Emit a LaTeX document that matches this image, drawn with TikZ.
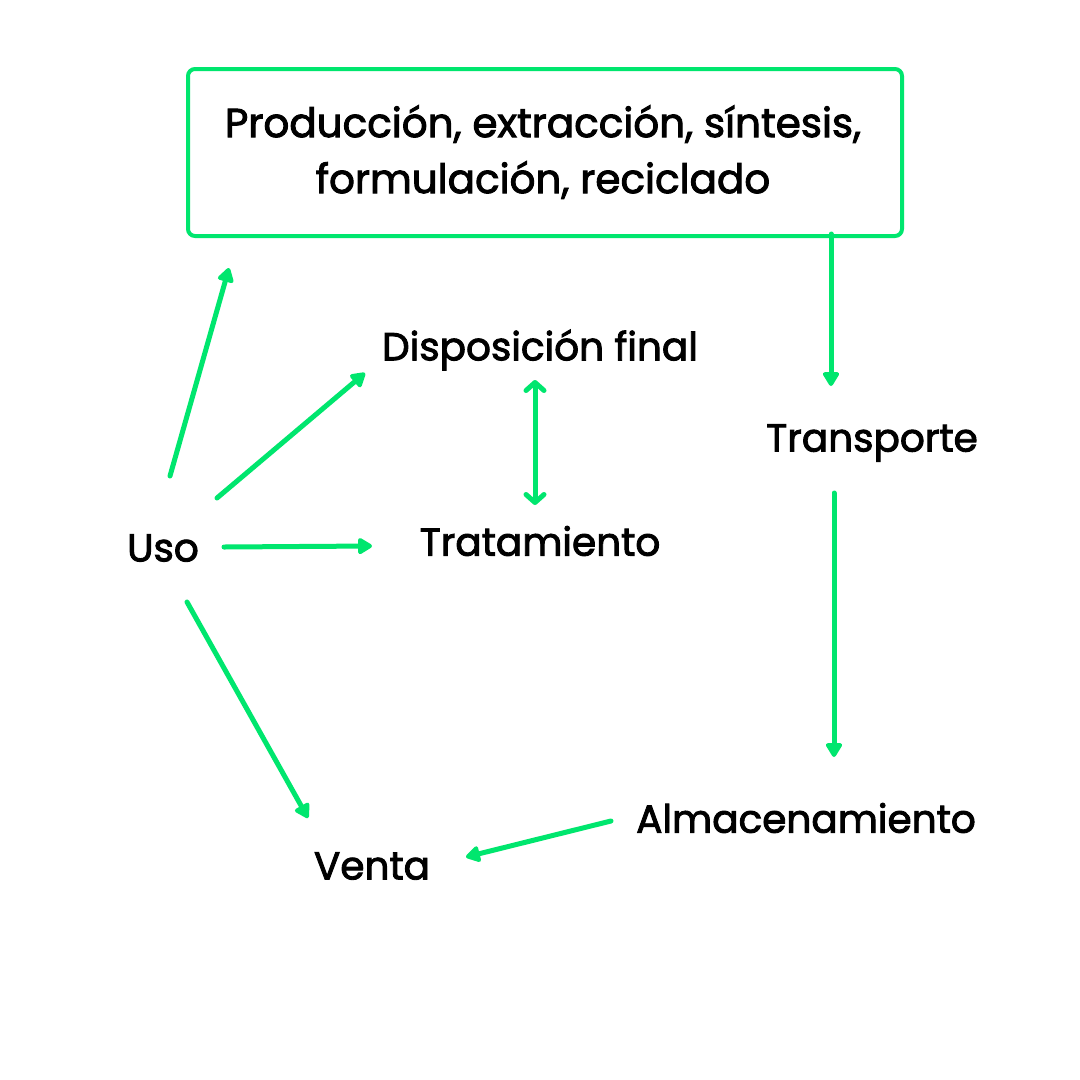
\documentclass[tikz,border=0pt]{standalone}
\usepackage{fontspec}
\setmainfont{Poppins}[FakeBold=2.3]
\usetikzlibrary{arrows.meta}
\definecolor{grn}{RGB}{0,230,110}
\tikzset{
  lbl/.style={inner sep=0pt, font=\fontsize{39}{56}\selectfont, text=black},
  conn/.style={draw=grn, line width=5pt, line cap=round, -{Triangle[length=16pt,width=18pt,round]}},
  biconn/.style={draw=grn, line width=5pt, line cap=round, {Straight Barb[length=8pt,width=18pt,round,line width=5pt]}-{Straight Barb[length=8pt,width=18pt,round,line width=5pt]}},
}
\begin{document}
\begin{tikzpicture}[x=1pt,y=-1pt]
\useasboundingbox (0,0) rectangle (1080,1080);
\fill[white] (0,0) rectangle (1080,1080);
\node[draw=grn, line width=4pt, rounded corners=7pt, minimum width=714pt, minimum height=167pt, anchor=north west, inner sep=0pt] (box) at (186,67) {};
\node[lbl, align=center, font=\fontsize{40.5}{56}\selectfont] (boxt) at (543,152) {Producción, extracción, síntesis,\\formulación, reciclado};
\node[lbl] (disp) at (540,350) {Disposición final};
\node[lbl] (trans) at (872,443) {Transporte};
\node[lbl] (uso) at (163,548) {Uso};
\node[lbl] (trat) at (540,541) {Tratamiento};
\node[lbl] (alm) at (806,818) {Almacenamiento};
\node[lbl] (venta) at (372,866) {Venta};
\coordinate (u1) at (170,476); \coordinate (b1) at (229,268);
\coordinate (u2) at (217,498); \coordinate (d2) at (365,373);
\coordinate (u3) at (224,547); \coordinate (t3) at (372,546);
\coordinate (u4) at (187,602); \coordinate (v4) at (308,818);
\coordinate (d5) at (535,380); \coordinate (t5) at (535,505);
\coordinate (b6) at (831,234); \coordinate (tr6) at (831,386);
\coordinate (tr7) at (834,493); \coordinate (a7) at (834,757);
\coordinate (a8) at (611,821); \coordinate (v8) at (466,857);
\draw[conn] (u1) -- (b1);
\draw[conn] (u2) -- (d2);
\draw[conn] (u3) -- (t3);
\draw[conn] (u4) -- (v4);
\draw[biconn] (d5) -- (t5);
\draw[conn] (b6) -- (tr6);
\draw[conn] (tr7) -- (a7);
\draw[conn] (a8) -- (v8);
\end{tikzpicture}
\end{document}
